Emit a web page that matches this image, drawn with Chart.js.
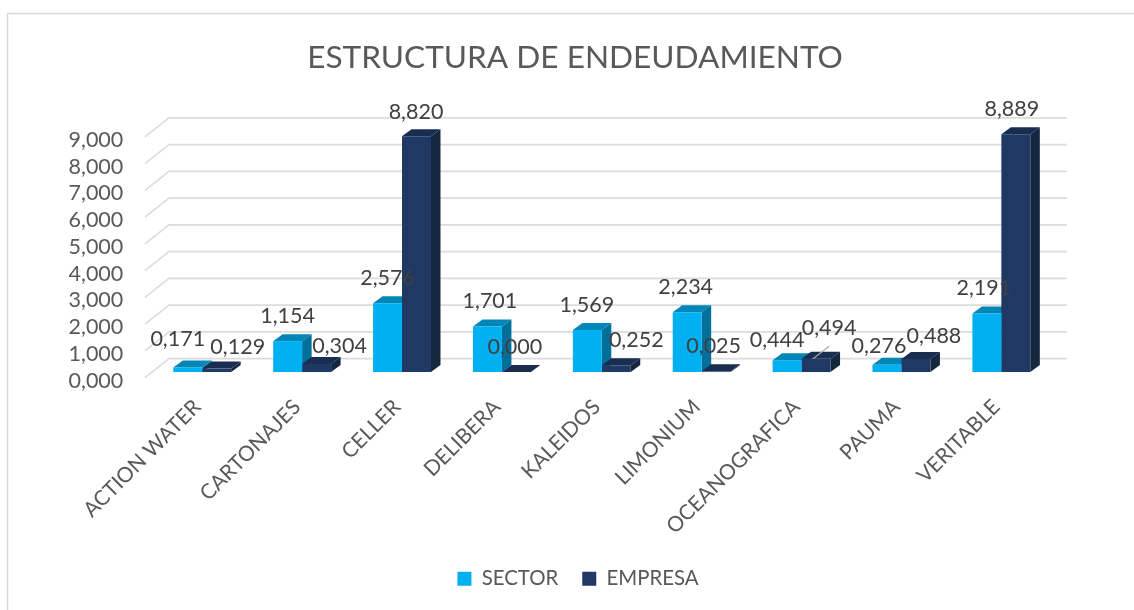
<!DOCTYPE html>
<html>
<head>
<meta charset="utf-8">
<style>
html,body{margin:0;padding:0;background:#fff;overflow:hidden}
canvas{display:block}
</style>
<script src="https://cdn.jsdelivr.net/npm/chart.js@4"></script>
</head>
<body>
<canvas id="c" width="1134" height="610"></canvas>
<script>
const categories = ['ACTION WATER','CARTONAJES','CELLER','DELIBERA','KALEIDOS','LIMONIUM','OCEANOGRAFICA','PAUMA','VERITABLE'];
const sector = [0.171,1.154,2.576,1.701,1.569,2.234,0.444,0.276,2.191];
const empresa = [0.129,0.304,8.820,0.000,0.252,0.025,0.494,0.488,8.889];
const seriesNames = ['SECTOR','EMPRESA'];
const yTicks = [0,1,2,3,4,5,6,7,8,9];
const titleText = 'ESTRUCTURA DE ENDEUDAMIENTO';

// manual data-label displacement from each bar's top centre
const sectorLabelShift = [[-10,-28],[0,-25],[0,-25],[2.5,-25],[-0.5,-25],[-1.5,-25],[-10,-20],[-8,-19],[-3,-25]];
const empresaLabelShift = [[21,-22],[23,-17.5],[-0.5,-24.5],[-1.5,-24.5],[20,-25],[-2.5,-25],[13,-30.5],[18,-22.5],[-4,-25]];

const FONT = 'Lato, sans-serif';
const fmt = v => v.toFixed(3).replace('.', ',');
const faces = [
  {front:'#00B0F0', top:'#0087B8', side:'#006F99'},
  {front:'#1F3864', top:'#192D50', side:'#15263F'}
];
const BAR_DX = 9.5, BAR_DY = -7;     // bar depth
const WALL_DX = 24, WALL_DY = -19;   // floor depth
const TICK_TEXT_DROP = 3;            // axis text sits this far below the gridline ends

const threeD = {
  id:'threeD',
  beforeDraw(chart){
    const c = chart.ctx;
    c.save();
    c.strokeStyle='#D9D9D9'; c.lineWidth=1.5;
    c.beginPath();
    c.moveTo(7.5,610); c.lineTo(7.5,13.5); c.lineTo(1134,13.5);
    c.stroke();
    const y = chart.scales.y;
    const x0 = 145, x1 = 1067;
    c.lineWidth=1.6;
    yTicks.forEach(t=>{
      const p = y.getPixelForValue(t)-TICK_TEXT_DROP;
      c.strokeStyle='#DCDCDC';
      c.beginPath();
      c.moveTo(x0,p); c.lineTo(x0+WALL_DX,p+WALL_DY); c.lineTo(x1,p+WALL_DY);
      c.stroke();
    });
    c.restore();
  },
  afterLayout(chart){
    // the legend sits slightly right of the title in the reference
    chart.legend.left += 3; chart.legend.right += 3;
  },
  beforeDatasetDraw(chart,args){
    // EMPRESA's fronts are drawn first by the library; paint all depth faces just before,
    // SECTOR's first so EMPRESA's cover them.
    if(args.index!==1) return;
    const c = chart.ctx;
    c.save();
    [0,1].forEach(k=>{
      const f = faces[k];
      chart.getDatasetMeta(k).data.forEach(b=>{
        const w = b.width/2, l=b.x-w, r=b.x+w, t=b.y, base=b.base;
        c.fillStyle=f.side;
        c.beginPath();
        c.moveTo(r,t);c.lineTo(r+BAR_DX,t+BAR_DY);c.lineTo(r+BAR_DX,base+BAR_DY);c.lineTo(r,base);
        c.closePath();c.fill();
        c.fillStyle=f.top;
        c.beginPath();
        c.moveTo(l,t);c.lineTo(l+BAR_DX,t+BAR_DY);c.lineTo(r+BAR_DX,t+BAR_DY);c.lineTo(r,t);
        c.closePath();c.fill();
      });
    });
    c.restore();
  },
  afterDatasetsDraw(chart){
    const c = chart.ctx;
    c.save();
    c.font='21.5px '+FONT; c.fillStyle='#404040';
    c.textAlign='center'; c.textBaseline='middle';
    const m1 = chart.getDatasetMeta(1).data[6];
    c.strokeStyle='#A6A6A6'; c.lineWidth=1.2;
    c.beginPath();
    c.moveTo(m1.x-3,m1.y); c.lineTo(m1.x+13,m1.y-12.5); c.stroke();
    [[sector,sectorLabelShift],[empresa,empresaLabelShift]].forEach(([vals,shift],k)=>{
      const meta = chart.getDatasetMeta(k).data;
      vals.forEach((v,i)=>{
        c.fillText(fmt(v), meta[i].x+shift[i][0], meta[i].y+shift[i][1]);
      });
    });
    c.restore();
  }
};

new Chart(document.getElementById('c'),{
  type:'bar',
  data:{labels:categories,datasets:[
    {label:seriesNames[0],data:sector,backgroundColor:faces[0].front,yAxisID:'yBars',clip:false,categoryPercentage:0.58,barPercentage:1},
    {label:seriesNames[1],data:empresa,backgroundColor:faces[1].front,yAxisID:'yBars',clip:false,categoryPercentage:0.58,barPercentage:1}
  ]},
  plugins:[threeD],
  options:{
    responsive:false,animation:false,
    layout:{padding:{left:16,right:0,top:0,bottom:11}},
    plugins:{
      tooltip:{enabled:false},
      title:{display:true,text:titleText,color:'#595959',font:{family:FONT,size:31.6,weight:'normal'},padding:{top:39,bottom:63}},
      legend:{position:'bottom',padding:10,labels:{color:'#595959',font:{family:FONT,size:20.4},boxWidth:14,boxHeight:14,padding:24}}
    },
    scales:{
      x:{grid:{display:false,drawTicks:false},border:{display:false},
        ticks:{color:'#595959',font:{family:FONT,size:21},minRotation:45,maxRotation:45,autoSkip:false,padding:14,labelOffset:-5},
        afterFit(s){s.height=164;}},
      y:{min:0,max:9,grid:{display:false,drawTicks:false},border:{display:false},
        ticks:{color:'#595959',font:{family:FONT,size:21.5},padding:29,stepSize:1,autoSkip:false,callback:v=>fmt(v)},
        afterFit(s){s.width=136.3;}},
      yBars:{position:'right',min:-0.32,max:8.68,grid:{display:false,drawTicks:false},border:{display:false},
        ticks:{display:false},afterFit(s){s.width=82.7;}}
    }
  }
});
</script>
</body>
</html>
